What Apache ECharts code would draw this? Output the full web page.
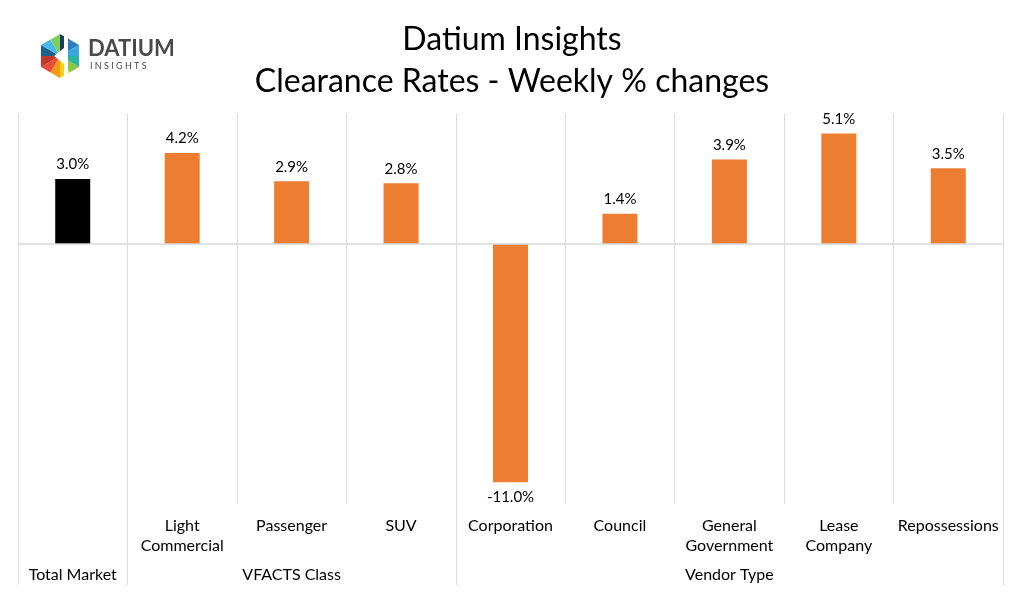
<!DOCTYPE html>
<html>
<head>
<meta charset="utf-8">
<script src="https://cdn.jsdelivr.net/npm/echarts@6/dist/echarts.min.js"></script>
<style>html,body{margin:0;padding:0;background:#fff}#chart{width:1024px;height:595px}</style>
</head>
<body>
<div id="chart"></div>
<script>
var categories = ['', 'Light\nCommercial', 'Passenger', 'SUV', 'Corporation', 'Council', 'General\nGovernment', 'Lease\nCompany', 'Repossessions'];
var values = [3.0, 4.2, 2.9, 2.8, -11.0, 1.4, 3.9, 5.1, 3.5];
var groupLabels = ['Total Market', '', 'VFACTS Class', '', '', '', 'Vendor Type', '', ''];
var groupStarts = [0, 1, 4];

var FONT = 'Lato';
var GRID = '#d9d9d9';

function initPage() {
	var myChart = echarts.init(document.getElementById('chart'));

	// logo: hexagon of coloured triangles
	var cx = 60, cy = 56, r = 22;
	var cols = ['#1f3a5f', '#2a7fc1', '#3aa7e0', '#2bb5a0', '#8dc63f', '#f7d117', '#f39c12', '#e74c3c', '#c0392b', '#1f5f8b', '#49b8e8', '#7fcf5a'];
	var logo = [];
	for (var i = 0; i < 6; i++) {
		var a1 = Math.PI / 180 * (-90 + 60 * i), a2 = Math.PI / 180 * (-30 + 60 * i);
		var p1 = [cx + r * Math.cos(a1), cy + r * Math.sin(a1)];
		var p2 = [cx + r * Math.cos(a2), cy + r * Math.sin(a2)];
		var m = [(p1[0] + p2[0]) / 2, (p1[1] + p2[1]) / 2];
		logo.push({ type: 'polygon', shape: { points: [[cx, cy], p1, m] }, style: { fill: cols[(i * 2) % 12] } });
		logo.push({ type: 'polygon', shape: { points: [[cx, cy], m, p2] }, style: { fill: cols[(i * 2 + 1) % 12] } });
	}
	logo.push({ type: 'polygon', shape: { points: [[cx - 6, cy], [cx + 4, cy - 8], [cx + 4, cy + 8]] }, style: { fill: '#fff' } });
	logo.push({ type: 'rect', shape: { x: cx + 4, y: cy - 20, width: 4, height: 40 }, style: { fill: '#fff' } });
	logo.push({ type: 'text', left: 88, top: 38, style: { text: 'DATIUM', font: 'bold 22px ' + FONT, fill: '#4a4a4a' } });
	logo.push({ type: 'text', left: 90, top: 62, style: { text: 'I N S I G H T S', font: '9px ' + FONT, fill: '#4a4a4a' } });

	myChart.setOption({
		animation: false,
		title: {
			text: 'Datium Insights\nClearance Rates - Weekly % changes',
			left: 'center',
			top: 14,
			textStyle: { fontFamily: FONT, fontWeight: 'normal', fontSize: 32, lineHeight: 42, color: '#000' }
		},
		graphic: logo,
		grid: { left: 18, right: 21, top: 114, bottom: 91 },
		xAxis: [{
			type: 'category',
			data: categories,
			axisLine: { show: false },
			axisTick: { show: false },
			splitLine: { show: true, lineStyle: { color: GRID } },
			axisLabel: { interval: 0, margin: 12, fontFamily: FONT, fontSize: 16, color: '#000', lineHeight: 20 }
		}, {
			type: 'category',
			data: groupLabels,
			position: 'bottom',
			axisLine: { show: false },
			axisTick: {
				show: true, length: 81, lineStyle: { color: GRID },
				interval: function (i) { return groupStarts.indexOf(i) >= 0; }
			},
			axisLabel: { interval: 0, margin: 63, fontFamily: FONT, fontSize: 16, color: '#000' }
		}],
		yAxis: {
			type: 'value',
			min: -12, max: 6,
			show: true,
			axisLabel: { show: false },
			axisLine: { show: false },
			axisTick: { show: false },
			splitLine: { show: false }
		},
		series: [{
			type: 'bar',
			barWidth: 35,
			data: values.map(function (v, i) {
				return { value: v, itemStyle: { color: i === 0 ? '#000000' : '#ed7d31' } };
			}),
			label: {
				show: true, position: 'outside', fontFamily: FONT, fontSize: 15, color: '#000', distance: 7,
				formatter: function (p) { return p.value.toFixed(1) + '%'; }
			},
			markLine: {
				silent: true, symbol: 'none', label: { show: false },
				lineStyle: { color: GRID, type: 'solid', width: 1.5 },
				data: [{ yAxis: 0 }]
			}
		}]
	});
}
initPage();
</script>
</body>
</html>
